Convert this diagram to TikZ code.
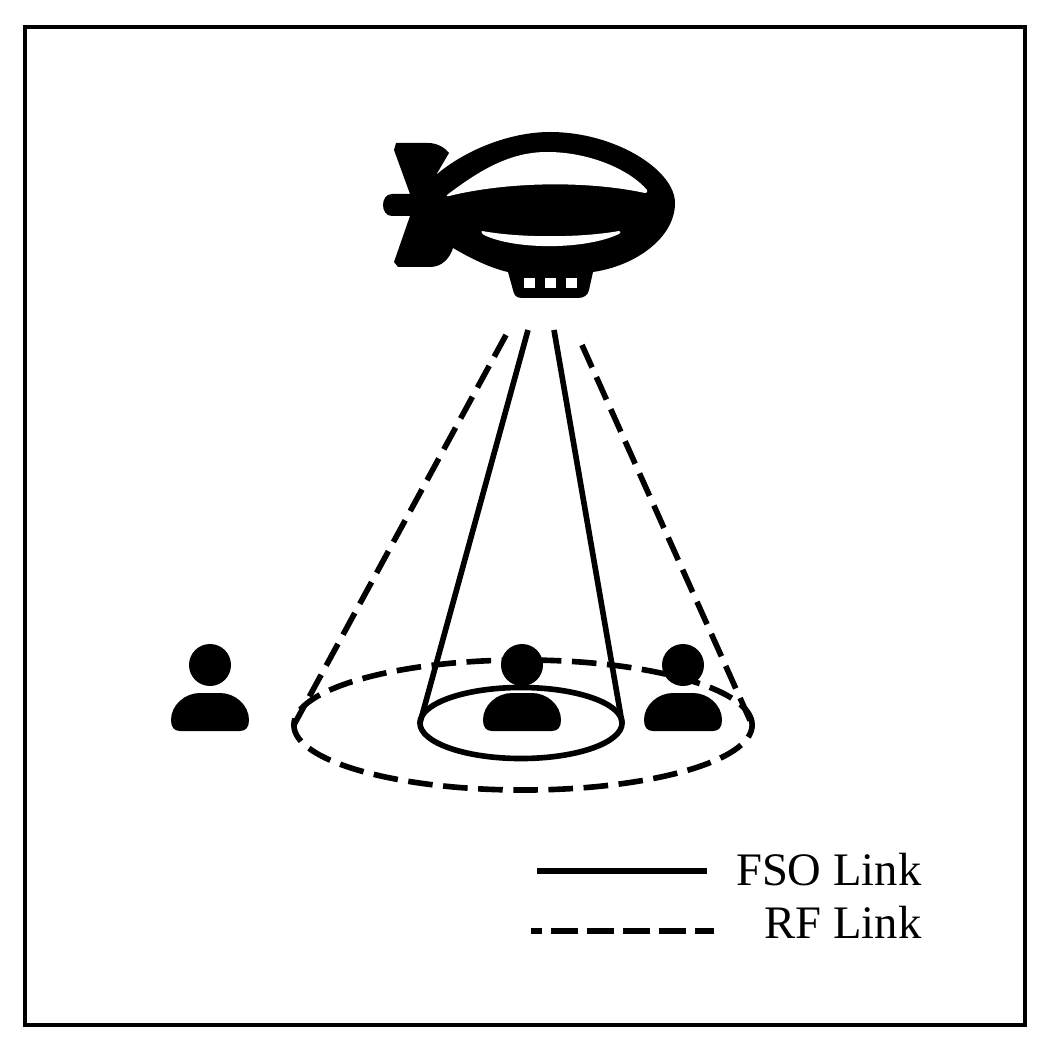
\documentclass[tikz,border=0pt]{standalone}
\usepackage{fontspec}
\setmainfont{Liberation Serif}
\usetikzlibrary{shapes.geometric}
\tikzset{
  fsolink/.style={line width=1.6pt},
  rflink/.style={line width=1.6pt,dash pattern=on 7pt off 3pt},
  cell/.style={ellipse,inner sep=0pt,outer sep=0pt},
  legendtext/.style={font=\fontsize{13.25pt}{15pt}\selectfont,inner sep=0pt,anchor=base east},
}
\begin{document}
\begin{tikzpicture}[x=0.01cm,y=-0.01cm]
  \useasboundingbox (0,0) rectangle (1049,1052);
  \fill[white] (0,0) rectangle (1049,1052);
  \draw[line width=1.3pt] (25,27) rectangle (1025,1025);
  % airship
  \fill (394,150) -- (396,143) -- (428,143)
    .. controls (438,143) and (445,148) .. (449,153)
    -- (436,175)
    .. controls (465,150) and (510,132) .. (550,132)
    .. controls (615,132) and (675,170) .. (675,203)
    .. controls (675,238) and (635,266) .. (593,272)
    -- (589,290) .. controls (588,295) and (584,298) .. (578,298)
    -- (522,298) .. controls (516,298) and (514,295) .. (513,290)
    -- (508,272)
    .. controls (490,268) and (470,258) .. (453,248)
    .. controls (450,258) and (442,267) .. (430,267)
    -- (398,267) -- (394,262) -- (410,216) -- (392,216)
    .. controls (380,216) and (380,194) .. (392,194)
    -- (410,194) -- cycle;
  \fill[white] (447,195) .. controls (480,170) and (510,152) .. (547,152)
    .. controls (590,152) and (630,170) .. (647,190)
    .. controls (648,192) and (647,193) .. (645,193)
    .. controls (590,181) and (510,181) .. (449,196)
    .. controls (447,197) and (446,196) .. (447,195) -- cycle;
  \fill[white] (482,231) .. controls (520,238) and (580,238) .. (619,231)
    .. controls (621,231) and (621,233) .. (619,234)
    .. controls (585,250) and (515,250) .. (484,235)
    .. controls (481,233) and (481,231) .. (482,231) -- cycle;
  \foreach \winx in {524,545,566}
    \fill[white] (\winx,278) rectangle ++(11,10);
  % users
  \foreach \userx in {210,522,683} {
    \fill (\userx,665) circle (21);
    \fill (\userx-30,731) .. controls (\userx-36,731) and (\userx-39,727) .. (\userx-39,720)
      .. controls (\userx-39,705) and (\userx-25,693) .. (\userx-10,693)
      -- (\userx+10,693)
      .. controls (\userx+25,693) and (\userx+39,705) .. (\userx+39,720)
      .. controls (\userx+39,727) and (\userx+36,731) .. (\userx+30,731) -- cycle;
  }
  % coverage areas
  \node[cell,draw,rflink,minimum width=4.58cm,minimum height=1.3cm] (rfcell) at (523,725) {};
  \node[cell,draw,fsolink,minimum width=2.02cm,minimum height=0.71cm] (fsocell) at (521,723) {};
  \coordinate (fsoleft) at (528,330);
  \coordinate (fsoright) at (554,330);
  \coordinate (rfleft) at (506,335);
  \coordinate (rfright) at (582,345);
  \draw[fsolink] (fsoleft) -- (fsocell.west);
  \draw[fsolink] (fsoright) -- (fsocell.east);
  \draw[rflink] (rfleft) -- (rfcell.west);
  \draw[rflink] (rfright) -- (rfcell.east);
  % legend
  \node[legendtext] (fsotext) at (922,885) {FSO Link};
  \node[legendtext] (rftext) at (922,938) {RF Link};
  \coordinate (fsostart) at (537,871);
  \coordinate (fsoend) at (707,871);
  \coordinate (rfstart) at (531,931);
  \coordinate (rfend) at (714,931);
  \draw[line width=1.7pt] (fsostart) -- (fsoend);
  \draw[line width=1.7pt,dash pattern=on 7.65pt off 2.55pt,dash phase=4.5pt] (rfstart) -- (rfend);
\end{tikzpicture}
\end{document}
